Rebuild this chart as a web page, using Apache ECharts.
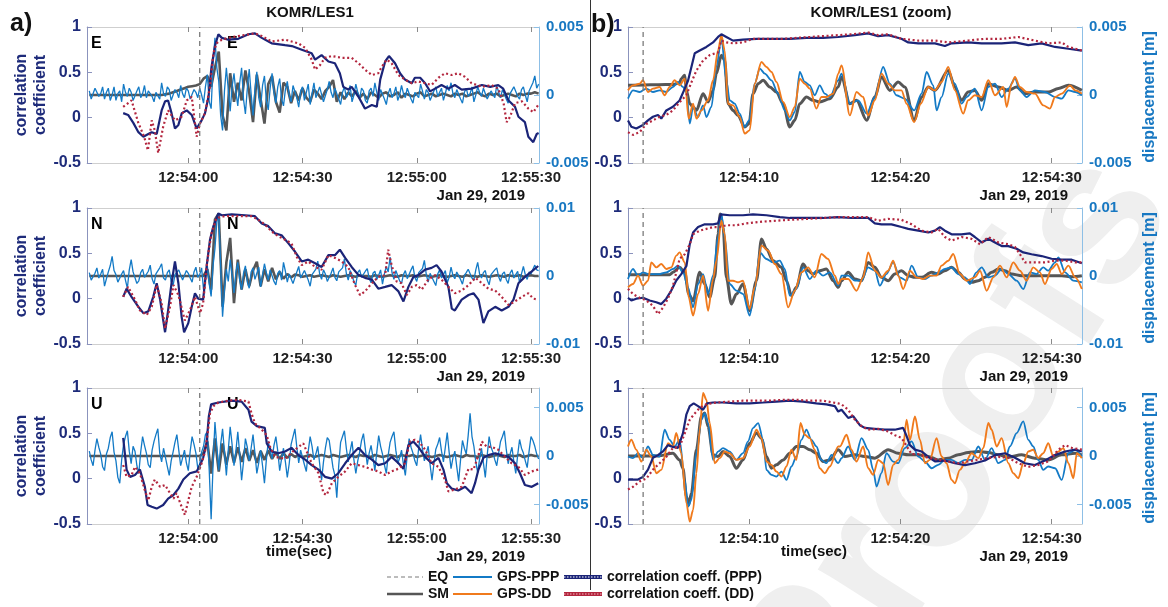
<!DOCTYPE html>
<html><head><meta charset="utf-8">
<script src="https://cdn.jsdelivr.net/npm/echarts@6/dist/echarts.min.js"></script>
<style>html,body{margin:0;padding:0;background:#fff}#c{width:1168px;height:607px}</style>
</head><body><div id="c"></div>
<script>
// ---------------- DATA (time in seconds relative to 12:54:00, Jan 29 2019) ----------------
const EQ_T = 3.0;
const MM = 0.001; // displacement arrays are in millimetres
const L_T0 = -26;  // start time of left-column uniform series
const SM_DT = 1;   // sampling step of left-column SM series (s)
const PPP_DT = 0.5; // sampling step of left-column GPS-PPP series (s)

// Left column, E component
const smE = [0,0,0,0,0,0,0,0,0,0, 0,0,0,0,0,0,0,0,0,0, 0.05,0.1,0.2,0.3,0.4,0.5,0.6,0.65,0.7,0.8, 1.2,1.4,0.6,2.0,3.2,-1.5,-2.6,1.6,-0.5,0.9, -0.4,1.8,0.2,-2.0,1.5,-0.3,-2.1,0.8,1.4,-0.5, -1.3,0.9,0.6,-0.6,0.3,-0.4,0.5,-0.2,-0.5,0.4, 0.1,-0.3,0.3,0.6,1.1,-0.5,0.2,-0.3,0.2,-0.1, 0.3,-0.2,0.1,-0.3,0.2,0.0,-0.2,0.1,0.2,-0.1, 0.0,0.2,-0.2,0.1,0.0,-0.1,0.1,0.2,-0.1,0.0, 0.1,-0.1,0.0,0.1,0.0,-0.1,0.1,0.0,0.1,-0.1, 0.0,0.1,0.2,0.0,-0.1,0.1,0.0,0.1,-0.1,0.0, 0.1,0.0,-0.1,0.1,0.0,0.1,0.1,0.2,0.1];
const pppE = [
 0.3,-0.3,-0.2,0.5,0.4,-0.1,0.1,0.6,-0.3,0.2,
 0.5,-0.4,0.0,0.6,-0.4,0.1,0.3,-0.5,0.8,0.2,
 -0.1,0.5,0.2,-0.4,-0.3,0.3,0.6,-0.2,0.1,0.7,
 -0.2,0.3,0.4,-0.1,-0.5,0.2,0.3,-0.3,0.9,0.1,
 -0.1,0.6,0.4,-0.4,-0.3,0.4,0.2,-0.2,0.7,0.1,
 -0.2,0.5,0.3,-0.3,-0.4,0.4,0.2,-0.2,0.5,0.0,
 -0.6,0.6,1.5,-0.5,-1.0,2.2,4.2,2.0,1.0,-1.5,
 -2.6,0.3,2.0,0.4,-1.2,0.6,1.6,0.2,-0.8,0.9,
 2.0,-0.3,-1.4,0.5,1.9,0.1,-1.5,0.4,1.7,-0.2,
 -0.9,0.7,1.4,-0.4,-1.1,0.5,1.6,0.2,-0.6,0.6,
 1.2,-0.3,-0.8,0.4,1.0,0.0,-0.5,0.7,0.8,-0.2,
 -0.9,0.3,0.6,-0.4,0.2,0.8,-0.7,0.1,0.9,-0.2,
 -0.3,0.6,0.5,-0.5,-0.6,0.4,1.0,0.2,-0.2,0.5,
 0.4,-0.3,-0.7,0.2,0.6,-0.2,0.1,0.7,-0.5,0.0,
 0.8,0.2,-0.3,0.5,0.3,-0.4,-0.6,0.3,0.5,-0.1,
 0.9,0.2,-0.4,0.4,0.3,-0.3,-0.7,0.1,0.5,-0.2,
 0.1,0.6,-0.4,0.0,0.7,0.1,-0.2,0.5,0.4,-0.3,
 -0.6,0.2,0.3,-0.2,0.8,0.3,-0.3,0.4,0.2,-0.4,
 -0.5,0.3,0.6,-0.1,0.0,0.5,-0.4,0.1,0.7,0.3,
 0.9,0.1,-0.2,0.4,0.3,-0.3,-0.6,0.2,0.5,-0.1,
 0.1,0.6,-0.5,0.0,0.6,0.2,-0.1,0.5,0.4,-0.3,
 -0.4,0.3,0.3,-0.2,0.7,0.2,-0.2,0.4,0.3,-0.3,
 -0.6,0.1,0.2,0.6,0.5,-0.1,-0.3,0.4,0.6,0.0,
 -0.5,0.3,0.4,0.9,1.4,0.5,0.8];
const corrPppE = [[-17.1,0.05],[-15.8,0.03],[-14.4,-0.06],[-13.1,-0.16],[-11.8,-0.21],[-10.5,-0.18],[-9.6,-0.16],[-8.3,-0.18],[-7.0,0.08],[-6.1,0.18],[-5.3,0.19],[-4.4,0.05],[-3.5,-0.12],[-2.6,-0.08],[-1.7,0.05],[-0.4,0.08],[0.9,0.03],[2.2,-0.12],[3.5,-0.03],[4.4,0.05],[5.3,0.23],[6.1,0.56],[7.0,0.79],[7.9,0.92],[8.8,0.88],[10.5,0.86],[13.1,0.87],[15.8,0.92],[17.5,0.93],[19.3,0.88],[21.9,0.82],[25.4,0.80],[27.2,0.79],[29.8,0.75],[32.4,0.71],[33.3,0.64],[35.0,0.69],[36.8,0.62],[38.5,0.6],[39.8,0.49],[40.7,0.34],[42.0,0.31],[42.9,0.34],[44.7,0.23],[46.4,0.1],[48.2,0.14],[49.5,0.12],[50.4,0.42],[51.7,0.62],[52.7,0.68],[54.3,0.6],[55.6,0.49],[56.9,0.42],[58.7,0.38],[59.5,0.44],[60.9,0.44],[62.2,0.38],[63.5,0.29],[64.8,0.32],[66.5,0.36],[68.3,0.32],[70.0,0.36],[71.8,0.31],[74.4,0.32],[77.1,0.36],[79.3,0.34],[81.4,0.36],[82.7,0.32],[84.1,0.19],[85.8,0.12],[86.7,0.01],[88.4,-0.05],[89.3,-0.21],[90.6,-0.27],[91.5,-0.18],[92.0,-0.17]];
const corrDdE = [[-17.1,0.12],[-14.9,0.19],[-13.1,-0.06],[-11.6,-0.21],[-10.6,-0.36],[-9.6,-0.03],[-8.8,-0.14],[-7.9,-0.39],[-6.6,-0.10],[-5.3,0.08],[-3.5,-0.03],[-1.75,0.01],[-0.4,0.19],[0.9,0.23],[2.2,-0.21],[3.1,-0.06],[4.4,0.05],[5.7,0.34],[6.6,0.71],[7.4,0.82],[8.8,0.86],[10.5,0.88],[13.1,0.9],[17.5,0.93],[19.3,0.9],[21.9,0.84],[25.4,0.86],[28.9,0.82],[30.7,0.77],[32.4,0.64],[33.3,0.53],[34.6,0.58],[35.9,0.66],[37.7,0.68],[40.3,0.66],[42.9,0.66],[44.7,0.6],[46.4,0.53],[48.2,0.47],[49.9,0.49],[50.8,0.56],[52.1,0.64],[53.4,0.6],[55.2,0.47],[56.9,0.42],[58.7,0.38],[60.4,0.4],[62.2,0.38],[63.9,0.36],[65.7,0.44],[67.4,0.49],[69.2,0.47],[70.9,0.49],[72.7,0.45],[74.4,0.38],[77.1,0.34],[79.7,0.36],[81.4,0.32],[82.8,0.16],[83.6,-0.05],[84.5,0.01],[85.8,0.16],[87.6,0.18],[89.3,0.1],[90.6,0.06],[91.9,0.14]];

// Left column, N component
const smN = [0,0,0,0,0,0,0,0,0,0, 0,0,0,0,0,0,0,0,0,0, 0,0,0,0,0,0,0,0,0,0, 0, 1.0,-2.0,8.3,9.2,-4.5,2.0,5.6,-4.0,2.4,-2.0,1.0,-1.5,0.8,2.1,-1.5,1.0,-0.8,1.2,-0.5,0.6,-0.4,0.3,-0.2,0.2, 0.1,-0.1,0.0,0.1,-0.1,0.0,0.1,0.0,-0.1,0.1, 0.0,-0.1,0.0,0.1,0.0,-0.1,0.1,0.0,0.0,-0.1, 0.1,0.0,-0.1,0.0,0.1,0.0,-0.1,0.1,0.0,0.0, 0.1,-0.1,0.0,0.1,0.0,-0.1,0.0,0.1,0.0,-0.1, 0.0,0.1,0.0,-0.1,0.1,0.0,0.0,-0.1,0.1,0.0, -0.1,0.0,0.1,0.0,-0.1,0.1,0.0,0.0,0.1,-0.1, 0.0,0.1,0.0,0.0];
const pppN = [
 0.5,-0.6,-0.8,0.4,1.2,-0.3,0.3,1.0,-1.5,-0.4,
 0.6,1.5,2.9,0.8,0.2,-0.9,-1.0,0.3,0.8,-0.6,
 -1.8,0.9,2.4,0.6,0.4,-1.1,-0.7,0.5,1.0,-0.2,
 -0.3,0.7,1.6,-0.4,-1.2,0.3,0.5,1.2,1.8,-0.3,
 -0.6,0.5,0.9,-0.8,-1.4,0.2,0.3,0.9,1.1,-0.6,
 -0.5,0.8,0.4,-0.3,-0.9,0.6,1.3,-0.2,0.2,1.2,
 -2.0,-0.5,1.5,-1.2,-3.0,1.5,4.0,8.0,9.0,1.5,
 -6.0,-2.0,1.0,-0.8,2.4,0.2,-2.5,0.5,2.0,-0.6,
 -2.0,0.4,1.5,-0.9,-1.8,0.6,1.2,-0.5,0.4,1.3,
 -1.6,0.2,1.8,0.5,-0.6,0.9,1.0,-0.8,-1.3,0.4,
 0.8,-0.6,2.0,0.7,-0.9,0.3,0.5,-1.1,-1.2,0.6,
 1.4,-0.3,-0.4,0.8,0.8,-0.6,-1.5,0.2,0.6,1.0,
 2.2,0.3,-0.5,0.9,0.3,-0.8,-1.0,0.4,1.2,-0.2,
 -0.7,0.6,0.5,1.2,2.5,0.4,-0.6,0.8,0.2,-0.9,
 -1.3,0.5,0.9,-0.2,-0.4,0.7,1.1,-0.3,-1.0,0.4,
 0.7,-0.5,0.1,0.9,-1.2,0.3,1.4,0.6,2.8,0.5,
 -0.5,0.8,0.6,-0.7,-1.1,0.2,0.8,-0.4,-0.3,0.9,
 1.5,-0.2,-0.8,0.5,0.4,1.1,2.3,0.2,-0.9,0.4,
 0.6,-0.8,-1.4,0.3,0.9,-0.3,0.2,0.8,-1.0,-0.2,
 1.3,0.1,-0.4,0.6,0.7,-0.5,-1.2,0.1,0.5,1.0,
 1.1,-0.3,-0.6,0.9,2.0,0.3,-0.3,0.5,0.8,-0.6,
 -1.3,0.2,0.4,0.9,1.2,-0.1,-0.8,0.3,0.6,-0.5,
 -1.1,0.4,0.9,-0.3,0.2,0.7,-1.0,0.3,1.4,0.2,
 -0.5,0.6,0.3,1.0,1.6,0.9,0.8];
const corrPppN = [[-17.1,0.02],[-16.2,0.11],[-14.9,0.02],[-13.1,-0.09],[-11.8,-0.16],[-10.5,-0.14],[-9.2,0.02],[-8.3,0.17],[-7.4,-0.01],[-6.1,-0.37],[-5.3,-0.13],[-4.4,0.17],[-3.5,0.41],[-2.6,0.17],[-1.75,-0.2],[-1.1,-0.37],[0.0,-0.27],[0.9,-0.09],[1.75,0.06],[2.6,0.0],[3.9,-0.01],[4.8,0.35],[5.7,0.65],[6.6,0.8],[7.9,0.94],[8.8,0.92],[11.4,0.93],[14.9,0.92],[17.5,0.91],[19.3,0.83],[21.0,0.8],[22.8,0.72],[24.5,0.7],[26.3,0.61],[28.0,0.52],[29.8,0.41],[31.5,0.43],[33.3,0.39],[35.0,0.35],[36.8,0.48],[38.5,0.48],[39.8,0.54],[41.2,0.45],[42.9,0.35],[44.7,0.26],[46.4,0.23],[48.2,0.21],[49.9,0.11],[51.7,0.13],[53.4,0.15],[55.2,0.08],[56.5,-0.03],[57.8,0.13],[59.1,0.24],[60.4,0.26],[62.2,0.32],[63.9,0.34],[65.2,0.37],[66.5,0.3],[68.3,0.13],[69.2,-0.11],[70.0,-0.13],[71.8,-0.01],[73.6,0.04],[74.9,0.06],[76.2,-0.01],[77.5,-0.27],[78.8,-0.14],[80.6,-0.09],[82.3,-0.13],[84.1,-0.09],[85.4,-0.01],[86.7,0.17],[88.4,0.24],[90.2,0.3],[91.9,0.36]];
const corrDdN = [[-17.1,0.02],[-15.8,0.13],[-14.0,-0.01],[-12.7,-0.13],[-10.9,-0.18],[-9.6,-0.09],[-8.3,0.15],[-7.0,-0.05],[-6.1,-0.33],[-4.8,-0.09],[-3.9,0.15],[-2.6,0.04],[-0.9,-0.24],[0.4,-0.13],[1.75,0.02],[3.1,-0.16],[3.9,-0.05],[4.8,0.35],[5.4,0.54],[6.1,0.72],[7.4,0.89],[9.6,0.91],[13.1,0.91],[16.6,0.91],[18.4,0.87],[20.1,0.82],[21.9,0.74],[23.6,0.69],[25.4,0.65],[27.1,0.61],[28.5,0.46],[29.8,0.37],[31.5,0.41],[33.3,0.35],[35.0,0.32],[36.8,0.48],[38.5,0.45],[40.3,0.41],[42.0,0.35],[43.8,0.15],[45.1,0.04],[46.4,0.08],[48.2,0.17],[49.9,0.24],[51.7,0.26],[52.5,0.54],[53.4,0.37],[54.7,0.19],[56.0,0.17],[57.4,0.04],[58.7,0.13],[60.0,0.15],[61.3,0.1],[63.0,0.21],[64.8,0.26],[66.5,0.21],[68.3,0.13],[70.0,0.06],[71.8,0.09],[73.6,0.15],[75.4,0.23],[77.1,0.17],[78.8,0.11],[80.6,0.09],[82.3,0.02],[84.1,-0.07],[85.8,-0.03],[87.6,0.02],[89.3,0.06],[90.6,0.0],[91.9,-0.01]];

// Left column, U component
const smU = [0,0,0,0,0,0,0,0,0,0, 0,0,0,0,0,0,0,0,0,0, 0,0,0,0,0,0,0,0,0,0, 0.3,1.5,-1.8,1.8,-1.6,1.3,-0.9,1.0,-0.7,0.9,-0.6,0.8,-0.5,0.6,-0.7,0.5,-0.4,0.6,-0.3,0.4,-0.3,0.3,-0.2,0.2,-0.1, 0.1,-0.1,0.0,0.1,-0.1,0.0,0.1,0.0,-0.1,0.1, 0.0,-0.1,0.0,0.1,0.0,-0.1,0.1,0.0,0.0,-0.1, 0.1,0.0,-0.1,0.0,0.1,0.0,-0.1,0.1,0.0,0.0, 0.1,-0.1,0.0,0.1,0.0,-0.1,0.0,0.1,0.0,-0.1, 0.0,0.1,0.0,-0.1,0.1,0.0,0.0,-0.1,0.1,0.0, -0.1,0.0,0.1,0.0,-0.1,0.1,0.0,0.0,0.1,-0.1, 0.0,0.1,0.0,0.0];
const pppU = [
 0.5,-0.4,-1.0,0.6,1.8,0.9,0.2,-1.1,-1.5,0.2,
 0.8,1.9,2.5,0.4,-0.5,-2.2,-2.8,-0.4,1.2,2.0,
 2.6,0.5,-0.8,1.0,0.5,-1.0,-1.8,0.4,2.0,1.1,
 0.3,-0.9,-1.2,0.6,1.5,2.2,2.8,0.3,-0.6,0.8,
 0.9,-1.1,-2.0,-0.5,0.4,1.4,2.2,0.6,-1.0,-0.2,
 0.6,-0.7,-1.5,0.5,2.0,1.2,0.3,-1.3,-0.8,0.4,
 1.0,2.2,2.5,-1.5,-6.5,-1.0,3.5,1.0,-1.5,1.2,
 2.8,0.4,-2.0,0.6,3.0,1.2,-1.0,0.5,2.5,0.2,
 -2.5,-0.6,1.8,0.9,-0.5,0.8,2.2,0.3,-1.8,-0.7,
 0.6,-1.0,-2.8,-0.4,1.5,0.6,-0.3,1.1,2.0,0.5,
 -1.5,-0.3,0.8,-0.6,-2.2,-0.8,1.2,2.0,2.8,0.9,
 -0.7,0.6,0.5,-0.9,-1.6,0.5,2.0,1.0,-0.4,0.2,
 1.0,-0.8,-2.5,-0.6,0.8,1.9,1.6,0.2,-1.2,-2.0,
 -4.3,-1.0,1.4,2.0,2.6,0.8,-0.6,0.5,1.5,-0.4,
 -1.8,-0.5,0.4,1.6,2.3,0.7,-0.9,0.3,1.1,-0.2,
 -1.5,0.4,2.1,1.0,0.2,-0.9,-1.8,0.1,1.4,2.0,
 2.5,0.6,-0.8,-0.2,0.6,-0.9,-2.0,0.1,1.8,0.9,
 0.3,-0.5,-1.0,0.8,2.2,0.7,-0.5,0.3,1.0,-0.9,
 -2.5,-0.8,0.7,1.2,1.9,0.5,-0.6,0.9,2.4,0.4,
 -1.3,-0.2,0.5,-1.1,-2.6,-0.4,1.6,0.8,0.2,2.1,
 4.4,2.0,1.0,-0.6,-1.7,-0.3,0.8,-0.7,-2.2,0.1,
 2.0,0.9,0.4,-0.4,-1.0,0.3,1.5,2.0,2.6,0.7,
 -0.8,0.2,0.9,-0.6,-1.8,0.1,1.7,0.8,0.3,-0.5,
 -1.2,0.5,2.0,1.6,1.0,0.2,-0.3];
const corrPppU = [[-17.1,0.45],[-16.2,0.1],[-15.3,0.02],[-14.0,0.04],[-12.7,0.1],[-11.4,-0.09],[-10.7,-0.29],[-9.6,-0.31],[-8.3,-0.33],[-6.6,-0.29],[-5.3,-0.22],[-3.9,-0.18],[-2.6,-0.11],[-1.3,-0.01],[0.4,0.06],[2.2,0.08],[3.1,0.15],[3.9,0.23],[4.8,0.39],[5.4,0.69],[6.0,0.82],[7.9,0.84],[11.4,0.86],[14.0,0.85],[15.8,0.76],[16.6,0.63],[18.0,0.58],[20.1,0.56],[20.6,0.39],[21.9,0.30],[23.6,0.28],[25.4,0.30],[27.1,0.34],[28.9,0.26],[30.7,0.21],[32.4,0.15],[34.2,0.1],[35.9,0.02],[37.7,0.0],[39.4,0.06],[41.2,0.17],[42.9,0.26],[44.7,0.34],[46.4,0.26],[48.2,0.21],[49.9,0.15],[51.7,0.17],[53.4,0.24],[55.2,0.17],[56.5,0.11],[57.8,0.37],[59.1,0.41],[60.4,0.35],[62.2,0.24],[63.9,0.17],[65.7,0.23],[67.0,0.1],[67.9,-0.05],[69.2,-0.11],[70.9,-0.13],[72.7,-0.09],[74.4,-0.16],[75.3,-0.05],[76.2,0.1],[77.5,0.23],[78.8,0.26],[80.6,0.28],[82.3,0.26],[84.1,0.24],[85.8,0.17],[87.1,0.06],[88.4,-0.07],[90.2,-0.09],[91.9,-0.05]];
const corrDdU = [[-17.1,0.15],[-16.2,0.02],[-14.9,0.04],[-14.0,0.13],[-12.7,0.06],[-11.4,-0.13],[-10.5,-0.24],[-9.6,-0.09],[-8.8,-0.01],[-7.4,-0.09],[-6.1,-0.07],[-4.8,-0.16],[-3.9,-0.22],[-3.1,-0.16],[-1.75,-0.31],[-0.9,-0.4],[0.0,-0.24],[0.9,-0.09],[2.2,0.02],[3.5,0.17],[4.4,0.3],[5.1,0.50],[5.7,0.72],[6.6,0.8],[7.9,0.84],[10.5,0.86],[13.1,0.87],[15.8,0.85],[16.6,0.72],[17.5,0.61],[19.3,0.54],[20.6,0.48],[21.5,0.35],[22.8,0.24],[25.4,0.22],[28.0,0.32],[30.2,0.39],[32.4,0.17],[34.2,0.06],[35.5,-0.16],[36.3,-0.18],[37.7,-0.05],[39.4,0.02],[41.2,0.08],[42.9,0.17],[44.7,0.15],[46.4,0.13],[48.2,0.1],[49.9,0.08],[51.7,0.04],[53.4,0.08],[55.2,0.11],[56.9,0.17],[58.2,0.41],[59.5,0.43],[60.9,0.39],[62.2,0.32],[63.9,0.17],[65.7,0.13],[67.4,-0.01],[68.3,-0.14],[70.0,-0.12],[71.8,-0.09],[73.6,0.11],[74.9,0.1],[76.2,0.26],[77.1,0.41],[78.4,0.35],[79.7,0.35],[81.4,0.32],[83.2,0.24],[84.9,0.17],[86.7,0.13],[88.4,0.04],[90.2,0.08],[91.9,0.1]];

// Right column (zoom), E component  [t, mm] / [t, corr]
const smEz = [[2.0,0.71],[3.0,0.74],[4.0,0.76],[5.0,0.78],[5.41,0.9],[5.52,1.2],[5.75,1.45],[5.86,0.34],[6.08,-0.64],[6.3,-0.88],[6.52,-1.13],[6.96,0.1],[7.29,-0.51],[7.62,0.34],[7.84,1.57],[8.17,2.92],[8.39,2.55],[8.61,-0.64],[8.94,-1.13],[9.27,-1.5],[9.71,-2.35],[10.0,-2.1],[10.26,0.1],[10.6,0.83],[10.93,1.08],[11.37,0.59],[11.81,0.22],[12.25,-0.64],[12.69,-2.35],[13.02,-1.86],[13.35,-0.64],[13.79,-0.15],[14.23,-0.39],[14.67,-0.51],[15.34,-0.27],[15.89,0.59],[16.11,1.32],[16.66,-0.64],[17.1,-0.39],[17.77,-1.86],[18.31,-0.15],[18.75,1.32],[19.3,0.34],[19.85,0.96],[20.29,0.59],[20.91,-1.86],[21.4,-0.15],[21.84,0.59],[22.28,0.34],[23.16,1.81],[23.6,0.59],[24.04,-0.39],[24.48,0.22],[24.92,0.34],[25.37,-0.39],[25.81,0.83],[26.47,0.59],[27.13,0.34],[27.68,0.59],[28.23,0.1],[28.89,0.22],[29.77,0.22],[30.44,0.47],[31.1,0.71],[31.99,0.34]];
const pppEz = [[2.0,-0.27],[2.33,0.34],[2.77,0.22],[3.21,0.47],[3.65,0.22],[4.09,0.34],[4.53,0.22],[4.97,0.59],[5.3,0.96],[5.63,0.59],[5.86,0.22],[6.08,-2.1],[6.3,-0.88],[6.63,-1.62],[6.96,-0.76],[7.18,-1.62],[7.51,-0.88],[7.84,2.06],[8.17,4.14],[8.5,1.08],[8.72,-0.39],[9.05,-0.64],[9.38,-1.37],[9.71,-2.35],[10.0,-1.86],[10.37,0.83],[10.71,1.94],[11.04,1.57],[11.48,1.08],[11.92,0.1],[12.36,-1.13],[12.69,-1.86],[13.02,-1.25],[13.35,1.69],[13.68,0.96],[14.01,0.71],[14.34,-0.02],[14.67,0.71],[15.0,0.1],[15.34,-0.15],[15.89,1.08],[16.11,1.57],[16.66,-0.64],[17.21,-0.39],[17.77,-1.37],[18.31,-0.15],[18.86,2.06],[19.3,0.83],[19.74,-0.02],[20.29,-0.27],[20.91,-1.13],[21.4,0.1],[21.73,1.69],[22.17,0.71],[22.39,-1.13],[22.72,-0.15],[23.16,1.57],[23.6,0.83],[24.04,-0.64],[24.38,-0.15],[24.92,0.47],[25.37,-1.13],[25.81,0.59],[26.25,0.83],[26.69,-0.15],[27.13,0.47],[27.57,1.2],[27.9,0.34],[28.34,-0.15],[28.89,0.34],[29.55,0.22],[30.22,-0.15],[30.66,-0.27],[31.1,0.34],[31.55,0.22],[31.99,-0.02]];
const ddEz = [[2.0,0.34],[2.33,0.71],[2.77,0.83],[2.99,1.08],[3.32,0.22],[3.65,0.47],[4.09,0.59],[4.42,-0.02],[4.75,0.59],[5.08,1.08],[5.41,0.71],[5.75,1.2],[6.01,-1.74],[6.3,-0.64],[6.52,-1.74],[6.85,-1.13],[7.29,-0.39],[7.62,1.08],[7.95,3.28],[8.17,4.39],[8.39,3.28],[8.61,-0.64],[8.94,-0.76],[9.38,-1.62],[9.71,-2.84],[10.04,-2.6],[10.37,0.83],[10.82,2.43],[11.15,2.06],[11.48,1.69],[11.81,0.96],[12.25,-0.51],[12.69,-1.62],[13.02,-0.88],[13.35,1.2],[13.68,0.83],[14.01,0.47],[14.45,-1.0],[14.78,-0.15],[15.11,-0.15],[15.56,0.1],[15.89,1.57],[16.11,2.18],[16.66,-1.5],[17.1,0.22],[17.54,-0.15],[17.87,-1.5],[18.31,-0.39],[18.75,1.57],[19.19,0.83],[19.63,0.34],[20.07,0.34],[20.41,-0.64],[20.91,-1.99],[21.35,-0.64],[21.84,0.59],[22.28,0.34],[22.72,0.96],[23.16,2.06],[23.6,0.34],[24.15,-1.37],[24.48,-0.39],[24.92,-0.02],[25.37,-0.15],[25.81,1.08],[26.25,-0.02],[26.8,0.59],[27.02,-0.88],[27.35,0.83],[27.57,1.32],[27.9,0.59],[28.34,0.22],[28.89,0.1],[29.44,-0.76],[29.88,-1.0],[30.22,-0.15],[30.66,0.1],[31.21,0.71],[31.55,0.34],[31.99,0.1]];
const corrPppEz = [[2.0,-0.03],[2.22,-0.1],[2.55,-0.12],[2.99,-0.08],[3.32,-0.03],[3.65,0.01],[3.98,0.03],[4.2,-0.01],[4.53,0.08],[4.97,0.12],[5.41,0.19],[5.75,0.32],[5.97,0.41],[6.19,0.56],[6.41,0.71],[6.74,0.74],[7.18,0.78],[7.62,0.83],[7.95,0.89],[8.17,0.92],[8.5,0.89],[8.94,0.85],[9.6,0.86],[10.49,0.87],[11.59,0.87],[12.69,0.87],[13.79,0.88],[14.89,0.88],[15.89,0.89],[16.99,0.91],[17.87,0.93],[18.53,0.90],[19.19,0.91],[20.07,0.87],[20.52,0.83],[21.18,0.82],[22.28,0.82],[22.94,0.79],[23.38,0.82],[24.48,0.83],[25.37,0.82],[26.69,0.82],[27.57,0.83],[28.45,0.80],[29.33,0.82],[30.22,0.78],[31.1,0.76],[31.99,0.74]];
const corrDdEz = [[2.0,-0.16],[2.33,-0.19],[2.77,-0.16],[3.21,-0.07],[3.65,-0.03],[4.09,0.01],[4.53,0.03],[4.97,0.08],[5.41,0.17],[5.86,0.25],[6.19,0.39],[6.52,0.52],[6.96,0.63],[7.4,0.69],[7.95,0.72],[8.17,0.85],[8.5,0.83],[8.94,0.82],[9.6,0.83],[10.26,0.87],[11.15,0.87],[12.25,0.87],[13.13,0.88],[14.01,0.89],[14.89,0.90],[15.89,0.91],[16.77,0.92],[17.87,0.94],[18.53,0.91],[19.19,0.92],[20.07,0.87],[21.18,0.85],[22.28,0.85],[23.16,0.83],[24.48,0.85],[25.59,0.87],[26.69,0.87],[27.79,0.89],[28.89,0.85],[29.77,0.82],[30.66,0.83],[31.1,0.78],[31.99,0.74]];

// Right column (zoom), N component
const smNz = [[2.0,0.2],[3.0,0.2],[4.0,0.2],[4.75,0.2],[4.97,0.54],[5.41,1.27],[5.75,0.54],[6.01,-2.65],[6.3,-3.63],[6.74,0.54],[7.07,-1.18],[7.4,-3.14],[7.73,-0.2],[7.95,6.18],[8.1,9.12],[8.28,7.16],[8.5,-0.2],[8.83,-4.12],[9.16,-2.65],[9.6,-1.18],[10.04,-5.1],[10.49,-0.69],[10.82,5.44],[11.15,3.97],[11.59,2.25],[12.14,1.27],[12.47,-0.69],[12.8,-2.89],[13.13,-1.67],[13.57,1.76],[13.9,0.78],[14.23,0.29],[14.67,0.78],[15.11,1.03],[15.56,-0.69],[15.89,-1.67],[16.11,-0.69],[16.55,0.54],[16.99,-0.44],[17.43,-0.69],[17.87,2.0],[18.31,1.27],[18.75,-0.2],[19.19,-0.69],[19.63,0.29],[20.07,0.78],[20.52,0.05],[20.96,-0.2],[21.4,-0.2],[22.06,0.54],[22.5,0.29],[22.94,0.78],[23.38,1.27],[23.82,0.54],[24.27,-0.44],[24.71,-0.93],[25.15,-0.69],[25.59,-0.2],[26.03,0.54],[26.47,1.03],[26.91,0.78],[27.35,0.29],[28.01,0.05],[28.67,0.05],[29.33,0.05],[29.99,0.05],[30.66,0.05],[31.32,-0.1],[31.99,0.05]];
const pppNz = [[2.0,-0.44],[2.33,1.03],[2.66,0.05],[2.99,0.54],[3.32,0.29],[3.65,0.29],[4.09,0.29],[4.53,0.54],[4.97,1.03],[5.3,1.52],[5.63,0.54],[5.97,-1.67],[6.3,-4.61],[6.63,-1.18],[6.96,0.29],[7.29,-2.65],[7.62,0.05],[7.95,5.69],[8.17,9.12],[8.39,5.69],[8.72,-1.18],[9.16,-2.16],[9.6,-2.65],[10.04,-5.83],[10.37,-2.16],[10.71,3.48],[11.15,2.5],[11.59,2.0],[12.03,2.25],[12.36,1.03],[12.69,-2.89],[13.13,-1.91],[13.57,1.27],[14.01,-0.44],[14.45,0.78],[14.89,0.05],[15.34,0.54],[15.89,-1.42],[16.11,0.05],[16.55,0.05],[16.99,-0.69],[17.43,-0.69],[17.87,1.27],[18.31,0.78],[18.64,-1.42],[19.08,0.29],[19.52,2.0],[19.96,-0.2],[20.41,-0.69],[20.74,1.52],[21.18,-0.2],[21.62,-0.44],[22.06,0.05],[22.5,0.54],[22.94,1.03],[23.38,1.27],[23.82,0.29],[24.27,-0.2],[24.59,-1.18],[25.03,0.54],[25.37,1.27],[25.81,-0.2],[26.25,0.05],[26.69,1.03],[27.13,0.29],[27.68,-0.69],[28.12,-1.91],[28.56,0.54],[28.99,0.29],[29.44,1.27],[29.77,0.78],[30.22,2.0],[30.44,2.75],[30.88,0.54],[31.43,-0.69],[31.99,-0.93]];
const ddNz = [[2.0,-1.67],[2.33,-1.18],[2.66,0.05],[2.99,-1.42],[3.32,-0.69],[3.54,2.0],[3.87,1.27],[4.2,1.76],[4.53,1.03],[4.86,1.27],[5.19,2.99],[5.41,3.48],[5.75,2.0],[6.01,-3.14],[6.3,-5.83],[6.63,-2.65],[6.96,0.05],[7.29,-5.1],[7.62,-0.44],[7.84,2.25],[8.17,8.14],[8.39,6.18],[8.61,-0.69],[8.94,-0.69],[9.27,-0.93],[9.6,-0.69],[10.04,-4.85],[10.37,-1.67],[10.82,4.46],[11.26,3.73],[11.7,1.76],[12.14,0.29],[12.58,-4.61],[13.02,-2.16],[13.46,0.54],[13.9,1.27],[14.34,-0.2],[14.78,3.24],[15.22,2.5],[15.67,0.05],[15.89,-1.18],[16.11,-0.44],[16.55,-0.44],[17.1,-2.16],[17.54,-0.2],[17.87,3.48],[18.31,0.78],[18.75,-0.2],[19.19,0.78],[19.52,2.25],[19.85,0.05],[20.18,-1.91],[20.63,0.78],[21.07,-0.2],[21.51,-0.44],[21.95,0.05],[22.39,0.05],[22.72,1.52],[23.16,2.25],[23.49,3.24],[23.93,0.29],[24.38,-0.69],[24.92,-0.2],[25.26,0.78],[25.7,-2.16],[26.14,-0.2],[26.58,1.52],[27.02,-0.2],[27.46,2.0],[27.9,0.78],[28.34,-0.69],[28.78,1.27],[29.22,0.54],[29.55,-1.18],[29.99,1.03],[30.33,1.76],[30.66,0.29],[31.1,1.52],[31.55,-0.2],[31.99,-1.91]];
const corrPppNz = [[2.0,0.01],[2.22,-0.02],[2.55,0.0],[2.99,0.01],[3.43,-0.02],[3.87,-0.04],[4.2,-0.06],[4.53,0.0],[4.86,0.09],[5.19,0.2],[5.52,0.27],[5.86,0.36],[6.08,0.6],[6.3,0.73],[6.63,0.79],[7.07,0.82],[7.62,0.82],[7.95,0.83],[8.13,0.93],[8.72,0.92],[9.6,0.92],[10.26,0.93],[11.15,0.92],[12.03,0.90],[12.69,0.89],[13.79,0.89],[14.89,0.89],[15.89,0.9],[16.77,0.89],[17.87,0.89],[18.31,0.83],[18.75,0.82],[19.41,0.82],[20.07,0.79],[20.52,0.77],[21.18,0.75],[21.84,0.73],[22.28,0.75],[22.61,0.79],[22.94,0.75],[23.38,0.71],[24.04,0.71],[24.59,0.72],[24.92,0.68],[25.37,0.62],[25.81,0.66],[26.25,0.62],[26.69,0.58],[27.13,0.58],[27.68,0.55],[28.12,0.51],[28.67,0.49],[29.33,0.47],[29.99,0.44],[30.66,0.43],[31.32,0.43],[31.99,0.39]];
const corrDdNz = [[2.0,0.11],[2.33,0.05],[2.77,0.01],[3.21,-0.02],[3.65,-0.08],[3.98,-0.17],[4.31,-0.1],[4.64,0.0],[4.97,0.14],[5.41,0.44],[5.75,0.49],[6.08,0.6],[6.3,0.71],[6.74,0.75],[7.18,0.77],[7.62,0.79],[8.06,0.79],[8.5,0.81],[9.16,0.81],[9.82,0.83],[10.93,0.85],[11.81,0.86],[12.69,0.87],[13.79,0.88],[14.89,0.89],[15.89,0.9],[16.99,0.9],[17.87,0.9],[18.53,0.86],[19.19,0.88],[20.07,0.87],[20.74,0.82],[21.4,0.75],[22.06,0.73],[22.5,0.77],[22.94,0.68],[23.38,0.64],[24.04,0.68],[24.71,0.66],[25.26,0.6],[25.81,0.68],[26.47,0.62],[27.13,0.6],[27.57,0.57],[27.9,0.49],[28.23,0.40],[28.89,0.40],[29.55,0.40],[30.22,0.42],[30.88,0.42],[31.55,0.40],[31.99,0.40]];

// Right column (zoom), U component
const smUz = [[2.0,0.0],[3.0,0.0],[4.0,0.0],[4.97,0.29],[5.41,-0.4],[5.63,-1.26],[5.86,-4.18],[6.01,-5.04],[6.19,-3.84],[6.52,0.64],[6.85,4.08],[7.07,4.42],[7.29,3.04],[7.62,0.12],[7.95,-0.05],[8.28,0.46],[8.72,-0.05],[9.16,-1.26],[9.6,-0.4],[10.04,1.32],[10.49,2.36],[10.82,1.84],[11.15,-0.05],[11.48,-1.26],[11.81,-0.91],[12.25,-0.4],[12.69,0.29],[13.13,0.98],[13.57,0.98],[14.01,0.64],[14.45,0.29],[14.89,-0.57],[15.34,-0.4],[15.89,0.64],[16.33,-0.05],[16.99,0.12],[17.65,-0.05],[18.31,-0.22],[19.19,0.64],[19.85,0.29],[20.52,0.12],[21.18,0.12],[21.84,-0.05],[22.5,-0.4],[23.16,-0.22],[23.82,0.12],[24.48,0.36],[25.15,0.46],[25.81,0.36],[26.47,0.12],[27.13,-0.12],[28.01,0.12],[28.89,-0.22],[29.77,-0.4],[30.66,0.12],[31.55,0.29],[31.99,0.12]];
const pppUz = [[2.0,-0.05],[2.33,-0.22],[2.66,0.29],[2.99,-0.22],[3.32,0.98],[3.65,0.12],[4.09,-0.05],[4.42,2.7],[4.75,1.67],[5.08,0.98],[5.41,1.67],[5.75,-2.46],[5.97,-5.2],[6.19,-4.52],[6.52,0.29],[6.85,3.73],[7.07,4.42],[7.29,3.39],[7.62,-0.4],[7.95,0.46],[8.28,0.81],[8.72,0.46],[9.16,-0.4],[9.6,0.29],[9.93,1.5],[10.26,2.87],[10.6,3.39],[10.93,1.67],[11.15,-1.43],[11.48,-1.94],[11.81,-2.12],[12.14,-1.6],[12.47,-2.46],[12.8,-1.08],[13.13,-0.05],[13.46,1.67],[13.79,2.7],[14.12,1.67],[14.45,0.98],[14.78,-0.4],[15.11,-0.74],[15.45,0.12],[15.89,-0.74],[16.11,-0.22],[16.55,0.98],[16.99,-0.4],[17.43,1.84],[17.87,0.64],[18.2,-1.43],[18.42,-3.15],[18.75,-1.77],[19.08,0.29],[19.52,-0.57],[19.85,-0.74],[20.29,0.81],[20.74,1.5],[21.18,-0.05],[21.62,-0.57],[22.06,-1.26],[22.5,-0.91],[22.94,-0.4],[23.38,-0.4],[23.82,-0.74],[24.27,-0.4],[24.71,-0.4],[25.15,0.98],[25.59,-0.4],[26.03,0.81],[26.47,-0.74],[26.91,-0.4],[27.24,0.98],[27.68,2.36],[28.12,3.56],[28.45,1.67],[28.78,0.98],[29.1,-0.4],[29.44,-1.43],[29.77,-1.08],[30.22,-1.26],[30.66,-2.46],[31.1,0.29],[31.55,0.64],[31.99,-0.05]];
const ddUz = [[2.0,0.98],[2.22,1.67],[2.55,0.64],[2.88,-0.57],[3.21,0.64],[3.54,-0.05],[3.87,-1.77],[4.2,-1.43],[4.64,1.32],[4.97,0.98],[5.19,2.36],[5.52,0.29],[5.86,-4.87],[6.08,-6.76],[6.3,-5.56],[6.52,-1.77],[6.74,2.7],[6.96,6.48],[7.18,5.8],[7.4,3.39],[7.73,-0.74],[8.06,-0.22],[8.39,0.46],[8.72,0.29],[9.16,-0.4],[9.6,-0.22],[10.04,0.98],[10.49,2.7],[10.82,1.84],[11.15,-0.57],[11.48,-0.91],[11.81,-1.6],[12.14,-2.12],[12.47,-1.08],[12.8,0.64],[13.13,-0.4],[13.4,3.39],[13.68,2.18],[14.01,1.84],[14.34,0.64],[14.67,-1.26],[15.0,-1.77],[15.34,-1.08],[15.89,0.98],[16.0,0.98],[16.44,2.18],[16.77,0.64],[17.1,-0.57],[17.54,0.98],[17.87,-1.26],[18.2,-1.94],[18.53,-0.4],[18.86,-0.74],[19.19,-2.98],[19.52,-0.91],[19.85,-0.4],[20.18,0.98],[20.41,3.73],[20.63,1.67],[20.96,4.08],[21.29,1.67],[21.62,-0.74],[21.95,-0.4],[22.39,1.84],[22.72,-0.05],[23.05,-0.74],[23.38,-2.46],[23.6,-2.8],[23.93,-1.43],[24.27,-0.74],[24.71,0.29],[25.15,-0.22],[25.48,0.81],[25.81,3.39],[26.03,2.7],[26.36,0.98],[26.69,1.84],[27.13,-0.74],[27.46,-1.77],[27.79,-2.29],[28.12,-0.74],[28.45,0.46],[28.78,0.64],[29.1,-0.22],[29.44,0.29],[29.77,1.32],[30.1,-0.05],[30.44,0.46],[30.77,0.81],[31.1,-0.74],[31.43,-2.29],[31.66,0.29],[31.99,-0.22]];
const corrPppUz = [[2.0,-0.01],[2.33,-0.01],[2.66,-0.01],[2.99,0.02],[3.32,0.1],[3.65,0.23],[3.98,0.26],[4.31,0.3],[4.64,0.37],[4.97,0.35],[5.3,0.34],[5.63,0.5],[5.86,0.71],[6.08,0.8],[6.34,0.83],[6.63,0.8],[6.96,0.76],[7.22,0.83],[7.62,0.84],[8.28,0.84],[9.16,0.83],[10.04,0.83],[10.93,0.84],[11.81,0.85],[12.69,0.86],[13.57,0.85],[14.45,0.83],[15.11,0.82],[15.67,0.8],[15.89,0.74],[16.11,0.76],[16.55,0.67],[16.88,0.69],[17.32,0.59],[17.65,0.56],[18.31,0.55],[18.97,0.54],[19.63,0.54],[20.18,0.56],[20.41,0.47],[20.63,0.37],[20.96,0.32],[21.4,0.30],[21.84,0.24],[22.28,0.19],[22.94,0.2],[23.6,0.17],[24.27,0.15],[24.92,0.17],[25.59,0.2],[26.25,0.26],[26.91,0.28],[27.57,0.23],[28.23,0.17],[28.89,0.15],[29.55,0.2],[30.22,0.26],[30.88,0.3],[31.55,0.32],[31.99,0.3]];
const corrDdUz = [[2.0,-0.12],[2.33,-0.09],[2.77,-0.03],[3.21,0.0],[3.65,0.1],[4.09,0.17],[4.53,0.24],[4.97,0.34],[5.41,0.35],[5.75,0.5],[6.08,0.65],[6.41,0.72],[6.74,0.78],[7.18,0.82],[7.84,0.84],[8.72,0.85],[9.6,0.86],[10.49,0.86],[11.37,0.86],[12.25,0.87],[13.13,0.87],[14.01,0.86],[14.89,0.86],[15.89,0.83],[16.11,0.82],[16.55,0.76],[16.99,0.65],[17.43,0.58],[17.87,0.54],[18.53,0.55],[19.19,0.52],[19.63,0.48],[20.07,0.45],[20.41,0.36],[20.74,0.27],[21.18,0.27],[21.84,0.23],[22.5,0.21],[23.16,0.19],[23.82,0.17],[24.48,0.19],[25.15,0.21],[25.81,0.23],[26.47,0.24],[27.13,0.23],[27.79,0.17],[28.45,0.13],[29.1,0.15],[29.77,0.19],[30.44,0.32],[30.88,0.37],[31.32,0.34],[31.99,0.32]];

// Axis ticks
const leftTimeTicks = [0, 30, 60, 90];
const zoomTimeTicks = [10, 20, 30];
const dispTicksE = [-0.005, 0, 0.005];
const dispTicksN = [-0.01, 0, 0.01];
const dispTicksU = [-0.005, 0, 0.005];

// ---------------- CHART ----------------
const FONT = '"Liberation Sans", Arial, sans-serif';
const C = {
  corrPpp:'#1b2478', corrDd:'#b3263e', ppp:'#137ac6', dd:'#f07a1c', sm:'#565656',
  eq:'#7a7a7a', leftTxt:'#1e2b7a', rightTxt:'#1878c2'
};
const uni = (arr, dt) => arr.map((v,i)=>[+(L_T0 + i*dt).toFixed(2), v*MM]);
const mm = arr => arr.map(p=>[p[0], p[1]*MM]);

const rowTop = [27, 208, 388], rowH = 136;
const cols = [{left:87, width:452, x:{min:-26.6, max:92.1, ticks:leftTimeTicks}},
              {left:628, width:454, x:{min:2, max:32, ticks:zoomTimeTicks}}];
const dispAxes = [{min:-0.005, max:0.005, ticks:dispTicksE},
                  {min:-0.01, max:0.01, ticks:dispTicksN},
                  {min:-0.007, max:0.007, ticks:dispTicksU}];

const panels = [
  {r:0,c:0, sm:uni(smE,SM_DT), ppp:uni(pppE,PPP_DT), dd:null, cp:corrPppE, cd:corrDdE},
  {r:0,c:1, sm:mm(smEz), ppp:mm(pppEz), dd:mm(ddEz), cp:corrPppEz, cd:corrDdEz},
  {r:1,c:0, sm:uni(smN,SM_DT), ppp:uni(pppN,PPP_DT), dd:null, cp:corrPppN, cd:corrDdN},
  {r:1,c:1, sm:mm(smNz), ppp:mm(pppNz), dd:mm(ddNz), cp:corrPppNz, cd:corrDdNz},
  {r:2,c:0, sm:uni(smU,SM_DT), ppp:uni(pppU,PPP_DT), dd:null, cp:corrPppU, cd:corrDdU},
  {r:2,c:1, sm:mm(smUz), ppp:mm(pppUz), dd:mm(ddUz), cp:corrPppUz, cd:corrDdUz}
];

const fmtTime = t => { const s = 12*3600 + 54*60 + Math.round(t);
  const h = Math.floor(s/3600), m = Math.floor((s%3600)/60), ss = s%60;
  return h + ':' + String(m).padStart(2,'0') + ':' + String(ss).padStart(2,'0'); };

const grid = [], xAxis = [], yAxis = [], series = [];
panels.forEach((p, g) => {
  const col = cols[p.c];
  grid.push({left:col.left, top:rowTop[p.r], width:col.width, height:rowH, containLabel:false, outerBoundsMode:'none'});
  const xCommon = {type:'value', gridIndex:g, min:col.x.min, max:col.x.max, splitLine:{show:false},
    axisLine:{show:true, onZero:false, lineStyle:{color:'#cfcfcf', width:1}},
    axisTick:{show:true, inside:true, length:5, customValues:col.x.ticks, lineStyle:{color:'#8a8a8a'}}};
  xAxis.push(Object.assign({}, xCommon, {position:'bottom',
    axisLabel:{show:true, customValues:col.x.ticks, formatter:fmtTime, margin:7, fontSize:15, fontWeight:'bold', color:'#222', fontFamily:FONT}}));
  xAxis.push(Object.assign({}, xCommon, {position:'top', axisLabel:{show:false}}));
  yAxis.push({type:'value', gridIndex:g, position:'left', min:-0.5, max:1, interval:0.5, splitLine:{show:false},
    axisLine:{show:true, onZero:false, lineStyle:{color:'#8b93bd'}},
    axisTick:{show:true, inside:true, length:5, lineStyle:{color:'#8b93bd'}},
    axisLabel:{margin:6, fontSize:16, fontWeight:'bold', color:C.leftTxt, fontFamily:FONT}});
  const d = dispAxes[p.r];
  yAxis.push({type:'value', gridIndex:g, position:'right', min:d.min, max:d.max, splitLine:{show:false},
    axisLine:{show:true, onZero:false, lineStyle:{color:'#8dbfe6'}},
    axisTick:{show:true, inside:true, length:5, customValues:d.ticks, lineStyle:{color:'#8dbfe6'}},
    axisLabel:{margin:7, customValues:d.ticks, fontSize:15, fontWeight:'bold', color:C.rightTxt, fontFamily:FONT,
      formatter: v => String(+v.toFixed(4))}});
  const base = {type:'line', xAxisIndex:2*g, showSymbol:false, symbol:'none', animation:false, silent:true};
  const sm = p.c ? {smooth:0.3, smoothMonotone:'x'} : {};
  series.push(Object.assign({}, base, sm, {name:'SM', yAxisIndex:2*g+1, data:p.sm, z:2,
    lineStyle:{color:C.sm, width: p.c ? 3 : 2.6}}));
  series.push(Object.assign({}, base, sm, {name:'GPS-PPP', yAxisIndex:2*g+1, data:p.ppp, z:3,
    lineStyle:{color:C.ppp, width: p.c ? 1.8 : 1.3}}));
  if (p.dd) series.push(Object.assign({}, base, sm, {name:'GPS-DD', yAxisIndex:2*g+1, data:p.dd, z:4,
    lineStyle:{color:C.dd, width:1.9}}));
  series.push(Object.assign({}, base, {name:'correlation coeff. (PPP)', yAxisIndex:2*g, data:p.cp, z:5,
    lineStyle:{color:C.corrPpp, width:2.2}}));
  series.push(Object.assign({}, base, {name:'correlation coeff. (DD)', yAxisIndex:2*g, data:p.cd, z:6,
    lineStyle:{color:C.corrDd, width:2.2, type:[2,2.6]}}));
  series.push(Object.assign({}, base, {name:'EQ', yAxisIndex:2*g, data:[[EQ_T,-0.5],[EQ_T,1]], z:7,
    lineStyle:{color:C.eq, width:1.3, type:[5,4]}}));
});

const T = (x, y, text, o) => Object.assign({type:'text', x, y, silent:true,
  style:Object.assign({text, fontFamily:FONT, fontWeight:'bold', fontSize:15, fill:'#111', align:'left', verticalAlign:'middle'}, o && o.style)},
  o && o.el);
const L = (x1, y1, x2, y2, stroke, lineWidth, dash) => ({type:'line', silent:true,
  shape:{x1, y1, x2, y2}, style:{stroke, lineWidth, lineDash:dash || null}});

const graphic = [];
graphic.push(T(955, 450, 'Proofs', {style:{fontSize:205, fontWeight:'bold', fill:'#efefef', align:'center'}, el:{rotation:Math.PI*0.32, z:-10}}));
graphic.push(L(590.5, 0, 590.5, 590, '#333', 1));
graphic.push(T(10, 24, 'a)', {style:{fontSize:25}}));
graphic.push(T(591, 25, 'b)', {style:{fontSize:25}}));
graphic.push(T(310, 13, 'KOMR/LES1', {style:{align:'center', fontSize:15}}));
graphic.push(T(881, 13, 'KOMR/LES1 (zoom)', {style:{align:'center', fontSize:15}}));
['E','N','U'].forEach((lab, r) => {
  const yc = rowTop[r] + 17;
  graphic.push(T(91, yc, lab, {style:{fontSize:16, fill:'#000'}}));
  graphic.push(T(227, yc, lab, {style:{fontSize:16, fill:'#000'}}));
  const ym = rowTop[r] + rowH/2;
  graphic.push(T(22, ym, 'correlation', {style:{align:'center', fontSize:16, fill:C.leftTxt}, el:{rotation:Math.PI/2}}));
  graphic.push(T(41, ym, 'coefficient', {style:{align:'center', fontSize:16, fill:C.leftTxt}, el:{rotation:Math.PI/2}}));
  graphic.push(T(1150, ym + 2, 'displacement [m]', {style:{align:'center', fontSize:16, fill:C.rightTxt}, el:{rotation:Math.PI/2}}));
  const yd = rowTop[r] + rowH + 33;
  graphic.push(T(525, yd, 'Jan 29, 2019', {style:{align:'right'}}));
  graphic.push(T(1068, yd, 'Jan 29, 2019', {style:{align:'right'}}));
});
graphic.push(T(299, 552, 'time(sec)', {style:{align:'center'}}));
graphic.push(T(814, 552, 'time(sec)', {style:{align:'center'}}));
// legend
const ly1 = 577, ly2 = 594;
graphic.push(L(387, ly1, 423, ly1, C.eq, 1.2, [4,3]));
graphic.push(T(428, ly1, 'EQ', {style:{fontSize:14}}));
graphic.push(L(453, ly1, 492, ly1, C.ppp, 2));
graphic.push(T(497, ly1, 'GPS-PPP', {style:{fontSize:14}}));
graphic.push(L(564, ly1, 602, ly1, C.corrPpp, 4));
graphic.push(L(564, ly1, 602, ly1, '#ffffff', 1.2, [1.5,1.5]));
graphic.push(T(607, ly1, 'correlation coeff. (PPP)', {style:{fontSize:14}}));
graphic.push(L(387, ly2, 423, ly2, C.sm, 2.6));
graphic.push(T(428, ly2, 'SM', {style:{fontSize:14}}));
graphic.push(L(453, ly2, 492, ly2, C.dd, 2));
graphic.push(T(497, ly2, 'GPS-DD', {style:{fontSize:14}}));
graphic.push(L(564, ly2, 602, ly2, C.corrDd, 4));
graphic.push(L(564, ly2, 602, ly2, '#f4b8c2', 1.2, [1.5,1.5]));
graphic.push(T(607, ly2, 'correlation coeff. (DD)', {style:{fontSize:14}}));

const chart = echarts.init(document.getElementById('c'), null, {renderer:'canvas'});
chart.setOption({animation:false, backgroundColor:'#ffffff', grid, xAxis, yAxis, series, graphic});
</script>
</body></html>
